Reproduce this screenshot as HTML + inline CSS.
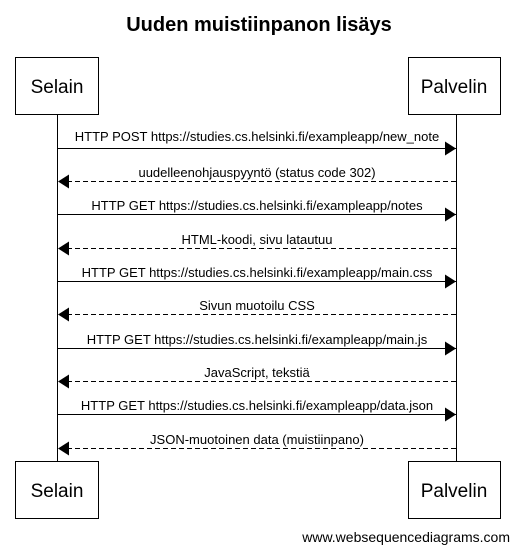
<!DOCTYPE html>
<html><head><meta charset="utf-8"><style>
body{margin:0;background:#fff;width:519px;height:552px;overflow:hidden}
svg text{font-family:"Liberation Sans",Arial,sans-serif;fill:#000}
</style></head><body>
<svg width="519" height="552" xmlns="http://www.w3.org/2000/svg">
<defs>
<marker id="a" markerWidth="12" markerHeight="14" refX="11" refY="7" orient="auto" markerUnits="userSpaceOnUse">
<path d="M0,0 L11,7 L0,14 Z" fill="#000"/></marker>
</defs>
<text x="259" y="31" font-size="20" font-weight="bold" text-anchor="middle">Uuden muistiinpanon lisäys</text>
<line x1="57.5" y1="114" x2="57.5" y2="462" stroke="#000"/>
<line x1="456.5" y1="114" x2="456.5" y2="462" stroke="#000"/>
<rect x="15.5" y="57.5" width="83" height="57" fill="#fff" stroke="#000"/>
<rect x="408.5" y="57.5" width="92" height="57" fill="#fff" stroke="#000"/>
<rect x="15.5" y="461.5" width="83" height="57" fill="#fff" stroke="#000"/>
<rect x="408.5" y="461.5" width="92" height="57" fill="#fff" stroke="#000"/>
<text x="57" y="93" font-size="19" text-anchor="middle">Selain</text>
<text x="454" y="93" font-size="19" text-anchor="middle">Palvelin</text>
<text x="57" y="497" font-size="19" text-anchor="middle">Selain</text>
<text x="454" y="497" font-size="19" text-anchor="middle">Palvelin</text>
<g stroke="#000">
<line x1="58" y1="148.5" x2="456" y2="148.5" marker-end="url(#a)"/>
<line x1="456" y1="181.5" x2="58" y2="181.5" stroke-dasharray="5,3" marker-end="url(#a)"/>
<line x1="58" y1="214.5" x2="456" y2="214.5" marker-end="url(#a)"/>
<line x1="456" y1="248.5" x2="58" y2="248.5" stroke-dasharray="5,3" marker-end="url(#a)"/>
<line x1="58" y1="281.5" x2="456" y2="281.5" marker-end="url(#a)"/>
<line x1="456" y1="314.5" x2="58" y2="314.5" stroke-dasharray="5,3" marker-end="url(#a)"/>
<line x1="58" y1="348.5" x2="456" y2="348.5" marker-end="url(#a)"/>
<line x1="456" y1="381.5" x2="58" y2="381.5" stroke-dasharray="5,3" marker-end="url(#a)"/>
<line x1="58" y1="414.5" x2="456" y2="414.5" marker-end="url(#a)"/>
<line x1="456" y1="448.5" x2="58" y2="448.5" stroke-dasharray="5,3" marker-end="url(#a)"/>
</g>
<g font-size="13" text-anchor="middle">
<text x="257" y="141">HTTP POST https://studies.cs.helsinki.fi/exampleapp/new_note</text>
<text x="257" y="177">uudelleenohjauspyyntö (status code 302)</text>
<text x="257" y="210">HTTP GET https://studies.cs.helsinki.fi/exampleapp/notes</text>
<text x="257" y="244">HTML-koodi, sivu latautuu</text>
<text x="257" y="277">HTTP GET https://studies.cs.helsinki.fi/exampleapp/main.css</text>
<text x="257" y="310">Sivun muotoilu CSS</text>
<text x="257" y="344">HTTP GET https://studies.cs.helsinki.fi/exampleapp/main.js</text>
<text x="257" y="377">JavaScript, tekstiä</text>
<text x="257" y="410">HTTP GET https://studies.cs.helsinki.fi/exampleapp/data.json</text>
<text x="257" y="444">JSON-muotoinen data (muistiinpano)</text>
</g>
<text x="510" y="542" font-size="14" text-anchor="end">www.websequencediagrams.com</text>
</svg>
</body></html>
